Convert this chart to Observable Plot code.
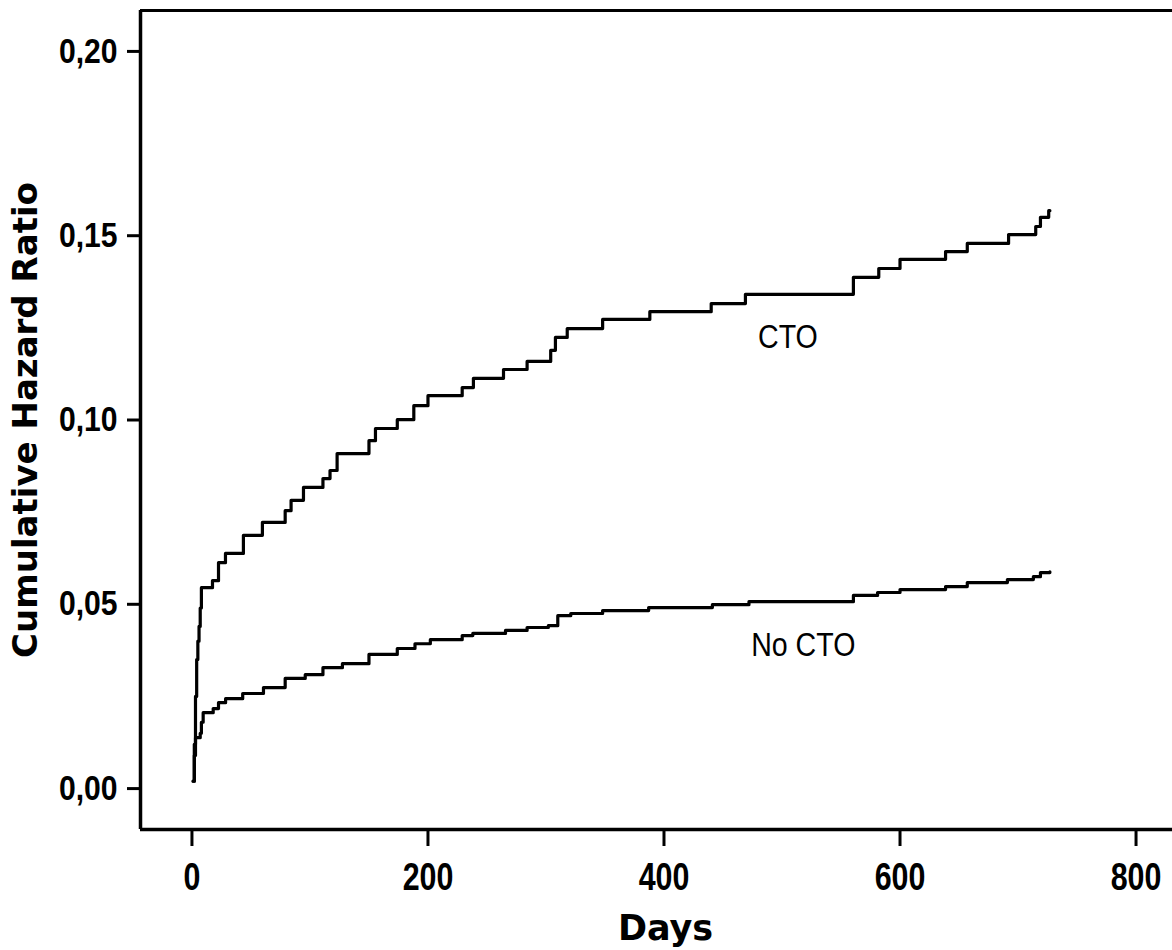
<!DOCTYPE html>
<html>
<head>
<meta charset="utf-8">
<script src="https://cdn.jsdelivr.net/npm/d3@7"></script>
<script src="https://cdn.jsdelivr.net/npm/@observablehq/plot@0.6"></script>
<style>
  html, body { margin: 0; padding: 0; background: #fff; overflow: hidden; }
  #chart svg { display: block; }
</style>
</head>
<body>
<div id="chart"></div>
<script>
// CTO cumulative hazard (step function): days and values
const ctoDays   = [1, 2, 3, 4, 5, 6, 7, 8, 17.4, 22.5, 28.4, 43.6, 59.7, 79, 84, 94.5, 111, 117, 123, 150, 155.5, 174, 188, 200, 229, 238.5, 264, 284, 304, 308, 318, 348, 388, 440, 469, 560.5, 582, 600, 638.6, 657, 692, 715, 719, 726, 727];
const ctoValues = [0.002, 0.012, 0.025, 0.035, 0.040, 0.044, 0.049, 0.0545, 0.0564, 0.0613, 0.0638, 0.0687, 0.0722, 0.0754, 0.0782, 0.0817, 0.0841, 0.0863, 0.0909, 0.0944, 0.0977, 0.1001, 0.1039, 0.1066, 0.1088, 0.1113, 0.1137, 0.1159, 0.1189, 0.1224, 0.1248, 0.1273, 0.1294, 0.1316, 0.1341, 0.1387, 0.1411, 0.1436, 0.1457, 0.1479, 0.1503, 0.1525, 0.155, 0.1568, 0.1568];

// No CTO cumulative hazard
const noCtoDays   = [1, 2, 3, 7, 8, 9.5, 18, 22.5, 28.5, 43, 60.6, 79, 96, 111, 127.5, 150, 174, 189, 202, 229, 238, 265.7, 284, 302, 310, 321, 348, 387, 441, 472, 560.5, 581, 600, 638.6, 657, 691, 713, 719, 727];
const noCtoValues = [0.002, 0.009, 0.0138, 0.015, 0.018, 0.0206, 0.0217, 0.0233, 0.0244, 0.0258, 0.0274, 0.0299, 0.0309, 0.0328, 0.0339, 0.0364, 0.038, 0.0393, 0.0404, 0.0415, 0.0421, 0.0429, 0.0437, 0.0442, 0.0469, 0.0475, 0.0483, 0.0491, 0.0499, 0.0507, 0.0524, 0.0532, 0.054, 0.0548, 0.0559, 0.0567, 0.0575, 0.0586, 0.0588];

const xTicks = [0, 200, 400, 600, 800];
const yTicks = [0, 0.05, 0.10, 0.15, 0.20];

const seriesNames = ["CTO", "No CTO"];
const labelDays   = [505, 518];
const labelValues = [0.1224, 0.0388];

const xDomain = [-43.6, 830.9];
const yDomain = [-0.0111, 0.2111];

const cto = ctoDays.map((d, i) => ({day: d, value: ctoValues[i]}));
const noCto = noCtoDays.map((d, i) => ({day: d, value: noCtoValues[i]}));
const labels = seriesNames.map((s, i) => ({name: s, day: labelDays[i], value: labelValues[i]}));

const sans = "'Liberation Sans', Arial, sans-serif";
const fmtY = d => d3.format(".2f")(d).replace(".", ",");

const plot = Plot.plot({
  width: 1172,
  height: 950,
  marginLeft: 140,
  marginRight: 0,
  marginTop: 10,
  marginBottom: 121,
  style: {background: "#fff", color: "#000", overflow: "visible"},
  x: {domain: xDomain, ticks: xTicks},
  y: {domain: yDomain, ticks: yTicks},
  marks: [
    Plot.ruleY([yDomain[1]], {stroke: "#000", strokeWidth: 3}),
    Plot.ruleY([yDomain[0]], {stroke: "#000", strokeWidth: 3.5}),
    Plot.ruleX([xDomain[0]], {stroke: "#000", strokeWidth: 3.5}),
    Plot.axisX({ticks: xTicks, tickSize: 17, tickPadding: 17, tickFormat: d => String(d),
      strokeWidth: 3, fontSize: 38, fontWeight: "bold", fontFamily: sans, label: null}),
    Plot.axisY({ticks: yTicks, tickSize: 13, tickPadding: 10, tickFormat: fmtY,
      strokeWidth: 3, fontSize: 35, fontWeight: "bold", fontFamily: sans, label: null}),
    Plot.line(cto, {x: "day", y: "value", curve: "step-after", stroke: "#000", strokeWidth: 3.2}),
    Plot.line(noCto, {x: "day", y: "value", curve: "step-after", stroke: "#000", strokeWidth: 3.2}),
    Plot.text(labels, {x: "day", y: "value", text: "name", fontSize: 34, fontFamily: sans, fill: "#000"}),
    Plot.text(["Days"], {frameAnchor: "bottom", dx: 9, dy: 110, fontSize: 35, fontWeight: "bold",
      fontFamily: "'DejaVu Sans', sans-serif", fill: "#000"}),
    Plot.text(["Cumulative Hazard Ratio"], {frameAnchor: "left", dx: -114, rotate: -90, fontSize: 34,
      textAnchor: "middle", fontWeight: "bold", fontFamily: "'DejaVu Sans', sans-serif", fill: "#000"})
  ]
});
document.getElementById("chart").appendChild(plot);

// condense glyphs to mimic the narrow typeface of the original
function condense(nodes, factor) {
  nodes.forEach(t => {
    const w = t.getComputedTextLength();
    t.setAttribute("textLength", (w * factor).toFixed(1));
    t.setAttribute("lengthAdjust", "spacingAndGlyphs");
  });
}
condense(plot.querySelectorAll('[aria-label="x-axis tick label"] text'), 0.8);
condense(plot.querySelectorAll('[aria-label="y-axis tick label"] text'), 0.86);
const textGroups = plot.querySelectorAll('g[aria-label="text"]');
if (textGroups.length) condense(textGroups[0].querySelectorAll("text"), 0.84);
</script>
</body>
</html>
